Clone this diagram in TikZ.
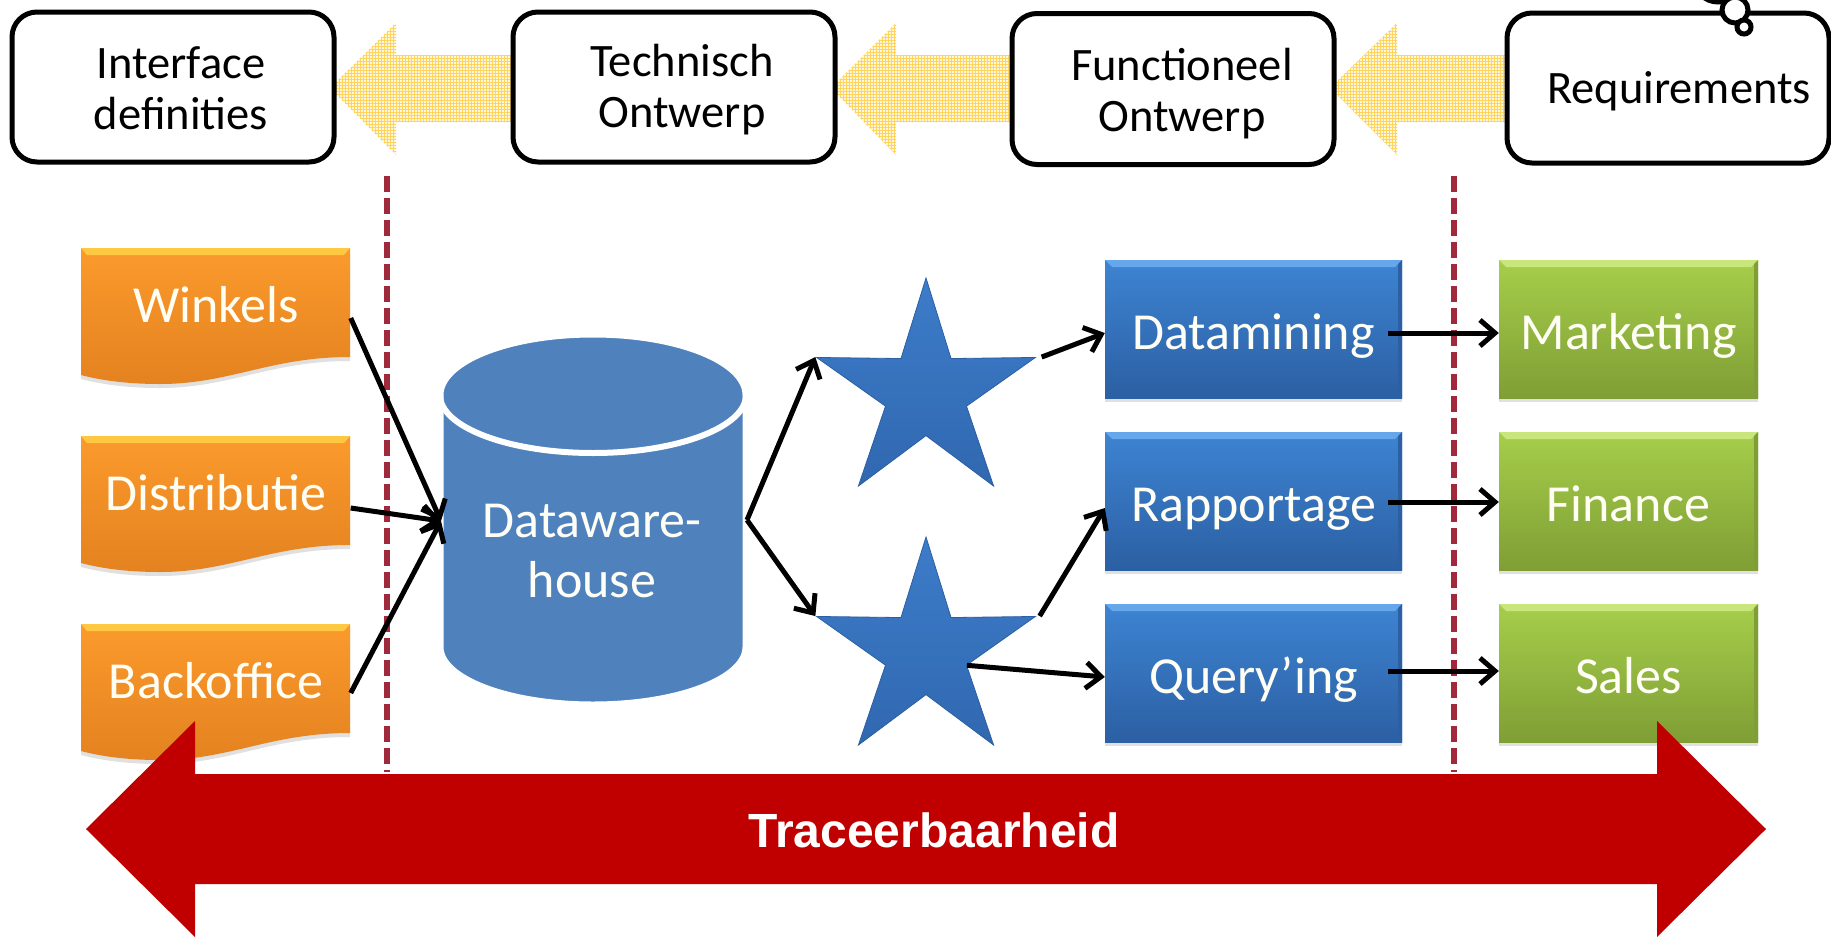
\documentclass[tikz,border=0pt]{standalone}
\usepackage{fontspec}
\setmainfont{Carlito}
\newfontfamily\arialbold{Liberation Sans}
\usetikzlibrary{arrows.meta,shapes.geometric,patterns,shadows}
\definecolor{boxblue}{HTML}{4F81BD}
\definecolor{darkred}{HTML}{C00000}
\definecolor{dashred}{HTML}{A02A3C}
\definecolor{gridyellow}{HTML}{FFD45C}
\tikzset{
  softshadow/.style={drop shadow={shadow xshift=0pt,shadow yshift=-4pt,opacity=.12,fill=black}},
  reqbox/.style={draw=black,line width=5pt,fill=white,rounded corners=25pt,inner sep=0pt,minimum width=322pt},
  reqlabel/.style={align=center,inner sep=0pt,font=\fontsize{46.5}{51}\selectfont},
  flowarrow/.style={pattern=grid,pattern color=gridyellow},
  barrow/.style={-{Straight Barb[length=15pt,width=26pt]},line width=5pt,black},
  labeltext/.style={text=white!96!yellow,font=\fontsize{52}{60}\selectfont},
  bevelbox/.style n args={3}{labeltext,minimum height=138pt,inner sep=0pt,softshadow,
    text height=40pt,text depth=0pt,top color=#1,bottom color=#2,
    path picture={
      \fill[#3] (path picture bounding box.north west) -- (path picture bounding box.north east)
        -- ([xshift=-7pt,yshift=-7pt]path picture bounding box.north east)
        -- ([xshift=7pt,yshift=-7pt]path picture bounding box.north west) -- cycle;
      \fill[#2] (path picture bounding box.north east) -- (path picture bounding box.south east)
        -- ([xshift=-4pt,yshift=4pt]path picture bounding box.south east)
        -- ([xshift=-4pt,yshift=-4pt]path picture bounding box.north east) -- cycle;
    }},
  bluebox/.style={bevelbox={barblue}{barbluedark}{barbluelight},minimum width=297pt},
  greenbox/.style={bevelbox={bargreen}{bargreendark}{bargreenlight},minimum width=259pt},
  dwhstar/.style={star,star points=5,star point ratio=2.7,minimum size=230pt,inner sep=0pt,
    top color=starblue,bottom color=starbluedark,draw=barbluedark,line width=.8pt},
}
\definecolor{barblue}{HTML}{3D84D2}
\definecolor{barbluedark}{HTML}{2C5FA3}
\definecolor{barbluelight}{HTML}{66A6EA}
\definecolor{starblue}{HTML}{3D7CC9}
\definecolor{starbluedark}{HTML}{3068B0}
\definecolor{bargreen}{HTML}{A6CE4A}
\definecolor{bargreendark}{HTML}{7F9E35}
\definecolor{bargreenlight}{HTML}{C8E67C}
\definecolor{docorange}{HTML}{FB9A2C}
\definecolor{docorangedark}{HTML}{E48220}
\definecolor{docband}{HTML}{FFC843}
\begin{document}
\begin{tikzpicture}[x=1pt,y=-1pt]
\useasboundingbox (0,0) rectangle (1831,937);
\fill[white] (0,0) rectangle (1831,937);

% flow arrows on top
\foreach \xt/\xb/\xe in {330/396/515, 831/896/1014, 1330/1397/1510} {
  \fill[gridyellow!20!white] (\xt,88) -- (\xb,23) -- (\xb,55) -- (\xe,55) -- (\xe,122) -- (\xb,122) -- (\xb,155) -- cycle;
  \path[flowarrow] (\xt,88) -- (\xb,23) -- (\xb,55) -- (\xe,55) -- (\xe,122) -- (\xb,122) -- (\xb,155) -- cycle;
}

\foreach \nm/\bx/\by/\bh/\lx/\ly/\lbl in {
  interface/173/87/150/181/88/{Interface\\definities},
  technisch/674/87/150/682/90/{Technisch\\Ontwerp},
  functioneel/1173/89/151/1182/94/{Functioneel\\Ontwerp},
  requirements/1668/88/150/1679/91/{Requirements}} {
  \node[reqbox,minimum height=\bh pt] (\nm box) at (\bx,\by) {};
  \node[reqlabel] (\nm) at (\lx,\ly) {\lbl};
}
\draw[line width=5pt,fill=white] (1718,-22) circle (24);
\draw[line width=5pt,fill=white] (1735,10) circle (13);
\draw[line width=5pt,fill=white] (1744,27) circle (7);

% separators
\foreach \x in {387,1454} {
  \draw[dashred,line width=6pt,dash pattern=on 16pt off 6pt] (\x,176) -- (\x,772);
}

% sources
\foreach \nm/\lbl/\ty in {winkels/Winkels/248, distributie/Distributie/436, backoffice/Backoffice/624} {
  \begin{scope}[shift={(0,\ty)}]
    \path[top color=docorange,bottom color=docorangedark,softshadow]
      (81,0) -- (350,0) -- (350,109) .. controls (270,109) and (230,136) .. (160,136)
      .. controls (125,136) and (100,132) .. (81,127) -- cycle;
    \fill[docband] (81,0) -- (350,0) -- (344,7) -- (87,7) -- cycle;
    \node[labeltext,minimum width=269pt,minimum height=100pt,inner sep=0pt,
      text height=34pt,text depth=0pt] (\nm) at (216,57) {\lbl};
  \end{scope}
}

% warehouse
\draw[white,line width=7pt,fill=boxblue,drop shadow={shadow xshift=0pt,shadow yshift=-3pt,opacity=.12,fill=black}]
  (440,395) -- (440,647) arc[start angle=180,end angle=0,x radius=153,y radius=58]
  -- (746,395) arc[start angle=0,end angle=-180,x radius=153,y radius=61] -- cycle;
\draw[white,line width=6pt] (440,395) arc[start angle=180,end angle=0,x radius=153,y radius=58];
\node[labeltext,align=center,inner sep=0pt] (dwhlabel) at (592,551) {Dataware-\\house};
\coordinate (dwhin) at (441,521);
\coordinate (dwhout) at (747,520);

% stars
\node[dwhstar] (star1) at (926,393) {};
\node[dwhstar] (star2) at (926,652) {};

% tools
\node[bluebox] (datamining) at (1253.5,329) {Datamining};
\node[bluebox] (rapportage) at (1253.5,501) {Rapportage};
\node[bluebox] (querying) at (1253.5,673) {Query’ing};

% users
\node[greenbox] (marketing) at (1628.5,329) {Marketing};
\node[greenbox] (finance) at (1628.5,501) {Finance};
\node[greenbox] (sales) at (1628.5,673) {Sales};

\draw[barrow] ([yshift=-13pt]winkels.east) -- (dwhin);
\draw[barrow] ([yshift=-15pt]distributie.east) -- (dwhin);
\draw[barrow] ([yshift=-12pt]backoffice.east) -- (dwhin);
\draw[barrow] (dwhout) -- (star1.outer point 2);
\draw[barrow] (dwhout) -- (star2.outer point 2);
\draw[barrow] ([xshift=5pt]star1.outer point 5) -- ([yshift=-4pt]datamining.west);
\draw[barrow] ([xshift=3pt]star2.outer point 5) -- ([yshift=-7pt]rapportage.west);
\draw[barrow] (star2.inner point 4) -- ([yshift=-4pt]querying.west);
\draw[barrow] ([xshift=-14pt,yshift=-4pt]datamining.east) -- ([yshift=-4pt]marketing.west);
\draw[barrow] ([xshift=-14pt,yshift=-1pt]rapportage.east) -- ([yshift=-1pt]finance.west);
\draw[barrow] ([xshift=-14pt,yshift=2pt]querying.east) -- ([yshift=2pt]sales.west);

% traceability
\fill[darkred] (86,829) -- (195,721) -- (195,774) -- (1657,774) -- (1657,721) -- (1766,829)
  -- (1657,937) -- (1657,884) -- (195,884) -- (195,937) -- cycle;
\node[text=white,font=\fontsize{48}{54}\selectfont\arialbold\bfseries] (trace) at (934,830) {Traceerbaarheid};
\end{tikzpicture}
\end{document}
